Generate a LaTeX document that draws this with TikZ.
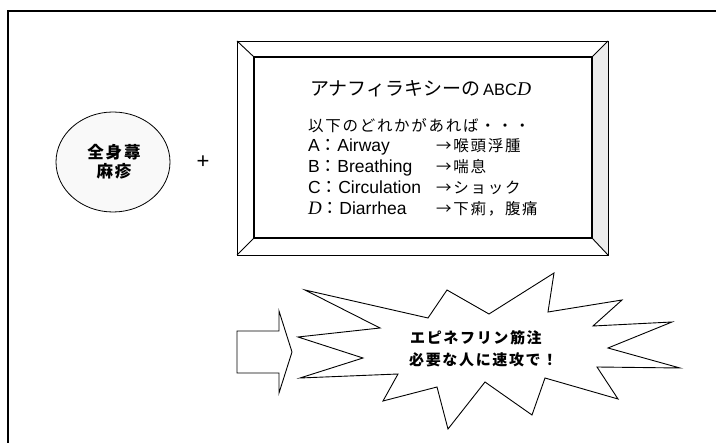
\documentclass[tikz,border=0pt]{standalone}
\usetikzlibrary{shapes.geometric}
\usepackage{fontspec}
\setmainfont{Liberation Sans}
\newfontfamily\jp{Noto Sans CJK JP}[LetterSpace=11]
\newfontfamily\jpt{Noto Sans CJK JP}
\newfontfamily\tms{Liberation Serif}
\begin{document}
\begin{tikzpicture}[x=1pt,y=-1pt,
  ln/.style={line width=0.9pt},
  boxtxt/.style={anchor=base west,inner sep=0pt,font=\fontsize{17.5}{20}\selectfont},
  jpbody/.style={font=\fontsize{15.5}{18}\selectfont\jp},
  bursttxt/.style={anchor=base west,inner sep=0pt,font=\fontsize{15}{17}\selectfont\jp\bfseries}]
\useasboundingbox (0,0) rectangle (716,443);
% outer frame (cut at the image edges)
\draw[line width=1.1pt] (716,11) -- (8,11) -- (8,443);
% bevelled box
\fill[gray!14] (608,41) -- (592,57) -- (592,238) -- (608,255) -- cycle;
\draw[ln] (237,41) rectangle (608,255);
\draw[line width=1.1pt] (254,57) rectangle (592,238);
\draw[ln] (237,41) -- (254,57) (608,41) -- (592,57) (237,255) -- (254,238) (608,255) -- (592,238);
% ellipse
\node[ellipse,draw,line width=0.8pt,fill=gray!5,minimum width=114pt,minimum height=100pt,inner sep=0pt] (zen) at (113,162) {};
\node[font=\fontsize{16.5}{19}\selectfont\jp\bfseries,align=center] (zent) at (114,162) {全身蕁\\麻疹};
\node[font=\fontsize{22}{22}\selectfont] (plus) at (203,162) {+};
% texts in box
\node[boxtxt] (title) at (310,96) {{\fontsize{19}{20}\selectfont\jpt アナフィラキシーの}{\fontsize{16.5}{20}\selectfont\,ABC}{\fontsize{19.5}{20}\selectfont\tms\itshape D}};
\node[boxtxt,jpbody] (l0) at (308,132) {以下のどれかがあれば・・・};
\node[boxtxt] (la) at (308,152) {A{\jp ：}Airway};
\node[boxtxt] (lb) at (308,173) {B{\jp ：}Breathing};
\node[boxtxt] (lc) at (308,194) {C{\jp ：}Circulation};
\node[boxtxt] (ld) at (308,215) {{\fontsize{19}{20}\selectfont\tms\itshape D}{\jp ：}Diarrhea};
\node[boxtxt,jpbody] (ra) at (436,152) {→喉頭浮腫};
\node[boxtxt,jpbody] (rb) at (436,173) {→喘息};
\node[boxtxt,jpbody] (rc) at (436,194) {→ショック};
\node[boxtxt,jpbody] (rd) at (436,215) {→下痢，腹痛};
% block arrow
\draw[ln] (237,331) -- (279,331) -- (279,311) -- (292,352) -- (279,393) -- (279,373) -- (237,373) -- cycle;
% starburst
\draw[ln] (305,290) -- (380,328) -- (298,337) -- (363,358) -- (300,378) -- (398,374)
  -- (383,401) -- (437,387) -- (448,429) -- (485,382) -- (532,415) -- (545,378)
  -- (618,399) -- (597,367) -- (680,368) -- (608,348) -- (672,322) -- (593,326)
  -- (622,300) -- (548,312) -- (554,273) -- (489,314) -- (447,290) -- (428,318) -- cycle;
\node[bursttxt] (b1) at (410,344) {エピネフリン筋注};
\node[bursttxt] (b2) at (409,366) {必要な人に速攻で！};
\end{tikzpicture}
\end{document}
